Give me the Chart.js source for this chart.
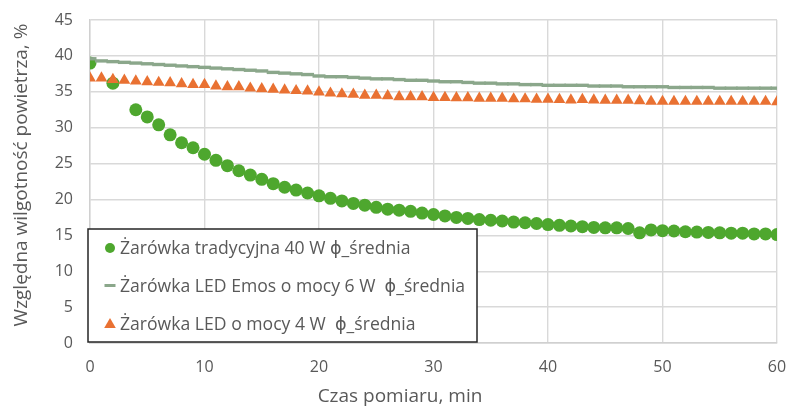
<!DOCTYPE html>
<html lang="pl">
<head>
<meta charset="utf-8">
<title>Względna wilgotność powietrza</title>
<script src="https://cdn.jsdelivr.net/npm/chart.js@4.4.1/dist/chart.umd.min.js"></script>
<style>
  html, body { margin: 0; padding: 0; background: #ffffff; }
  #wrap { width: 788px; height: 408px; }
</style>
</head>
<body>
<div id="wrap"><canvas id="chart" width="788" height="408"></canvas></div>
<script>
// Czas pomiaru [min]
const minutes = [0, 1, 2, 3, 4, 5, 6, 7, 8, 9, 10, 11, 12, 13, 14, 15, 16, 17, 18, 19, 20,
  21, 22, 23, 24, 25, 26, 27, 28, 29, 30, 31, 32, 33, 34, 35, 36, 37, 38, 39, 40,
  41, 42, 43, 44, 45, 46, 47, 48, 49, 50, 51, 52, 53, 54, 55, 56, 57, 58, 59, 60];

// Żarówka tradycyjna 40 W – wilgotność średnia [%]
const bulb40W = [39.0, null, 36.2, null, 32.5, 31.5, 30.4, 29.0, 27.9, 27.2, 26.3,
  25.45, 24.7, 24.0, 23.4, 22.8, 22.2, 21.7, 21.3, 20.9, 20.5,
  20.15, 19.8, 19.45, 19.2, 18.9, 18.65, 18.5, 18.35, 18.1, 17.9,
  17.7, 17.5, 17.35, 17.2, 17.1, 17.0, 16.85, 16.75, 16.65, 16.5,
  16.4, 16.3, 16.2, 16.1, 16.05, 16.05, 15.95, 15.35, 15.75, 15.65,
  15.6, 15.5, 15.45, 15.4, 15.35, 15.3, 15.3, 15.2, 15.2, 15.1];

// Żarówka LED Emos 6 W – wilgotność średnia [%]
const ledEmos6W = [39.6, 39.3, 39.2, 39.1, 39.0, 38.9, 38.8, 38.7, 38.6, 38.5, 38.4,
  38.3, 38.2, 38.1, 38.0, 37.9, 37.7, 37.6, 37.5, 37.4, 37.2,
  37.1, 37.1, 37.0, 36.9, 36.8, 36.8, 36.7, 36.6, 36.6, 36.5,
  36.4, 36.4, 36.3, 36.2, 36.2, 36.1, 36.1, 36.0, 36.0, 35.9,
  35.9, 35.9, 35.9, 35.8, 35.8, 35.8, 35.7, 35.7, 35.7, 35.7,
  35.6, 35.6, 35.6, 35.6, 35.5, 35.5, 35.5, 35.5, 35.5, 35.5];

// Żarówka LED 4 W – wilgotność średnia [%]
const led4W = [36.9, 36.9, 36.7, 36.6, 36.5, 36.4, 36.3, 36.25, 36.1, 36.0, 36.0,
  35.8, 35.7, 35.7, 35.5, 35.4, 35.35, 35.25, 35.15, 35.1, 34.95,
  34.8, 34.7, 34.65, 34.5, 34.5, 34.45, 34.3, 34.3, 34.3, 34.2,
  34.2, 34.15, 34.15, 34.1, 34.1, 34.1, 34.0, 34.0, 33.95, 33.95,
  33.9, 33.85, 33.9, 33.85, 33.8, 33.8, 33.8, 33.75, 33.65, 33.65,
  33.65, 33.65, 33.65, 33.65, 33.65, 33.65, 33.65, 33.65, 33.65, 33.6];

const seriesNames = [
  'Żarówka tradycyjna 40 W ϕ_średnia',
  'Żarówka LED Emos o mocy 6 W  ϕ_średnia',
  'Żarówka LED o mocy 4 W  ϕ_średnia'
];

const xTitle = 'Czas pomiaru, min';
const yTitle = 'Względna wilgotność powietrza, %';

const GREEN = '#4ea72e';
const SAGE = '#8ba78b';
const ORANGE = '#e97132';
const TEXT = '#595959';
const FONT = '"Open Sans", "DejaVu Sans", sans-serif';

const toPoints = vals => minutes.map((m, i) => ({ x: m, y: vals[i] }));

// Axis titles drawn around the plot area
const axisTitles = {
  id: 'axisTitles',
  afterDraw(chart) {
    const { ctx, chartArea } = chart;
    ctx.save();
    ctx.fillStyle = TEXT;
    ctx.font = '19px ' + FONT;
    ctx.textAlign = 'center';
    ctx.textBaseline = 'middle';
    ctx.fillText(xTitle, chartArea.left + 310, 397);
    ctx.translate(22, chartArea.top + 155);
    ctx.rotate(-Math.PI / 2);
    ctx.fillText(yTitle, 0, 0);
    ctx.restore();
  }
};

// Boxed legend placed inside the lower-left corner of the plot area
const boxLegend = {
  id: 'boxLegend',
  afterDraw(chart) {
    const { ctx, chartArea } = chart;
    const x0 = chartArea.left - 2;
    const y1 = chartArea.bottom - 1;
    const w = 389, h = 113;
    const y0 = y1 - h;
    ctx.save();
    ctx.fillStyle = '#ffffff';
    ctx.fillRect(x0, y0, w, h);
    ctx.strokeStyle = '#262626';
    ctx.lineWidth = 1.5;
    ctx.strokeRect(x0, y0, w, h);

    const rows = [y0 + 19, y0 + 56.5, y0 + 94.5];
    const mx = x0 + 22;
    ctx.font = '17.6px ' + FONT;
    ctx.textAlign = 'left';
    ctx.textBaseline = 'middle';

    // circle
    ctx.fillStyle = GREEN;
    ctx.beginPath();
    ctx.arc(mx, rows[0], 5, 0, Math.PI * 2);
    ctx.fill();
    // dash
    ctx.strokeStyle = SAGE;
    ctx.lineWidth = 3;
    ctx.beginPath();
    ctx.moveTo(mx - 5.5, rows[1]);
    ctx.lineTo(mx + 5.5, rows[1]);
    ctx.stroke();
    // triangle
    ctx.fillStyle = ORANGE;
    ctx.beginPath();
    ctx.moveTo(mx, rows[2] - 5.5);
    ctx.lineTo(mx + 5.8, rows[2] + 4.5);
    ctx.lineTo(mx - 5.8, rows[2] + 4.5);
    ctx.closePath();
    ctx.fill();

    ctx.fillStyle = TEXT;
    seriesNames.forEach((name, i) => ctx.fillText(name, mx + 10, rows[i] + 1));
    ctx.restore();
  }
};

new Chart(document.getElementById('chart'), {
  type: 'scatter',
  data: {
    datasets: [
      {
        label: seriesNames[0],
        data: toPoints(bulb40W),
        showLine: false,
        pointStyle: 'circle',
        pointRadius: 6.5,
        pointBorderWidth: 0,
        pointBackgroundColor: GREEN,
        pointBorderColor: GREEN,
        order: 2
      },
      {
        label: seriesNames[1],
        data: toPoints(ledEmos6W),
        showLine: false,
        pointStyle: 'line',
        pointRadius: 6.5,
        pointBorderWidth: 3.4,
        pointBackgroundColor: SAGE,
        pointBorderColor: SAGE,
        order: 1
      },
      {
        label: seriesNames[2],
        data: toPoints(led4W),
        showLine: false,
        pointStyle: 'triangle',
        pointRadius: 6.8,
        pointBorderWidth: 0,
        pointBackgroundColor: ORANGE,
        pointBorderColor: ORANGE,
        order: 0
      }
    ]
  },
  options: {
    responsive: false,
    animation: false,
    devicePixelRatio: 1,
    layout: { padding: { left: 0, right: 11, top: 20, bottom: 0 } },
    plugins: {
      legend: { display: false },
      tooltip: { enabled: false }
    },
    scales: {
      x: {
        type: 'linear',
        min: 0,
        max: 60,
        afterFit: s => { s.height = 65; s.paddingLeft = 0; s.paddingRight = 0; },
        ticks: {
          stepSize: 10,
          padding: 15,
          color: TEXT,
          font: { family: FONT, size: 16 }
        },
        grid: { color: '#d9d9d9', lineWidth: 1.4, drawTicks: false },
        border: { color: '#d0d0d0', width: 1.4 }
      },
      y: {
        min: 0,
        max: 45,
        afterFit: s => { s.width = 90; s.paddingTop = 0; s.paddingBottom = 0; },
        ticks: {
          stepSize: 5,
          padding: 17,
          color: TEXT,
          font: { family: FONT, size: 16 }
        },
        grid: { color: '#d9d9d9', lineWidth: 1.4, drawTicks: false },
        border: { color: '#d0d0d0', width: 1.4 }
      }
    }
  },
  plugins: [axisTitles, boxLegend]
});
</script>
</body>
</html>
